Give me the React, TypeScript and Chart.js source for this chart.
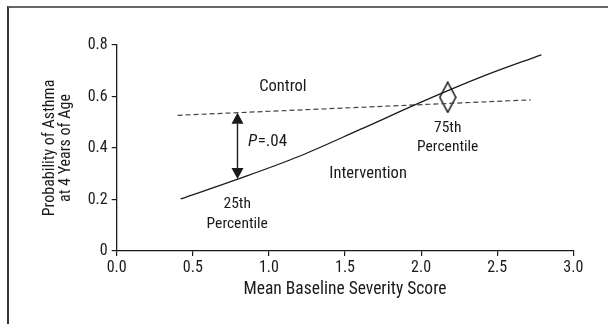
import React, { useEffect, useRef } from "react";
import { Chart, registerables } from "chart.js";

Chart.register(...registerables);

// Data
const interventionX = [0.42, 0.8, 1.2, 1.6, 2.0, 2.4, 2.79];
const interventionY = [0.202, 0.28, 0.368, 0.472, 0.578, 0.677, 0.762];
const controlX = [0.4, 2.72];
const controlY = [0.527, 0.587];
const xTicks = [0, 0.5, 1.0, 1.5, 2.0, 2.5, 3.0];
const yTicks = [0, 0.2, 0.4, 0.6, 0.8];
const diamondPoint = { x: 2.175, y: 0.597 };
const arrowX = 0.792;
const arrowTop = 0.537;
const arrowBottom = 0.28;

const annotationTexts = ["Control", "Intervention", "25th", "Percentile", "75th", "Percentile"];
const annotationX = [1.092, 1.652, 0.792, 0.792, 2.175, 2.175];
const annotationY = [0.636, 0.299, 0.183, 0.105, 0.479, 0.405];
const pLabel = { x: 0.863, y: 0.424, italic: "P", rest: "=.04" };

const FONT = "'Liberation Sans Narrow', 'Arial Narrow', 'Roboto Condensed', sans-serif";
const INK = "#1a1a1a";

function makeDiamond(): HTMLCanvasElement {
  const c = document.createElement("canvas");
  c.width = 18;
  c.height = 32;
  const ctx = c.getContext("2d")!;
  ctx.strokeStyle = "#111";
  ctx.lineWidth = 1.5;
  ctx.beginPath();
  ctx.moveTo(9, 1);
  ctx.lineTo(17, 16);
  ctx.lineTo(9, 31);
  ctx.lineTo(1, 16);
  ctx.closePath();
  ctx.stroke();
  return c;
}

const overlayPlugin = {
  id: "overlay",
  afterDatasetsDraw(chart: any) {
    const { ctx, scales } = chart;
    const xs = scales.x;
    const ys = scales.y;
    ctx.save();
    // arrow
    const ax = Math.round(xs.getPixelForValue(arrowX)) + 0.5;
    const at = ys.getPixelForValue(arrowTop);
    const ab = ys.getPixelForValue(arrowBottom);
    const hw = 6;
    const hh = 11;
    ctx.strokeStyle = INK;
    ctx.fillStyle = INK;
    ctx.lineWidth = 1.4;
    ctx.beginPath();
    ctx.moveTo(ax, at + hh);
    ctx.lineTo(ax, ab - hh);
    ctx.stroke();
    ctx.beginPath();
    ctx.moveTo(ax, at);
    ctx.lineTo(ax + hw, at + hh);
    ctx.lineTo(ax - hw, at + hh);
    ctx.closePath();
    ctx.fill();
    ctx.beginPath();
    ctx.moveTo(ax, ab);
    ctx.lineTo(ax + hw, ab - hh);
    ctx.lineTo(ax - hw, ab - hh);
    ctx.closePath();
    ctx.fill();

    // texts
    ctx.textAlign = "center";
    ctx.textBaseline = "middle";
    ctx.fillStyle = INK;
    annotationTexts.forEach((t, i) => {
      const fs = i < 2 ? 16.5 : 15.5;
      ctx.font = `${fs}px ${FONT}`;
      ctx.fillText(t, xs.getPixelForValue(annotationX[i]), ys.getPixelForValue(annotationY[i]));
    });
    // P=.04
    const px = xs.getPixelForValue(pLabel.x);
    const py = ys.getPixelForValue(pLabel.y);
    ctx.textAlign = "left";
    ctx.font = `italic 17px ${FONT}`;
    ctx.fillText(pLabel.italic, px, py);
    const w = ctx.measureText(pLabel.italic).width;
    ctx.font = `17px ${FONT}`;
    ctx.fillText(pLabel.rest, px + w + 0.5, py);
    ctx.restore();
  },
};

export default function App() {
  const ref = useRef<HTMLCanvasElement | null>(null);
  useEffect(() => {
    if (!ref.current) return;
    const diamond = makeDiamond();
    const chart = new Chart(ref.current, {
      type: "scatter",
      data: {
        datasets: [
          {
            label: "Intervention",
            data: interventionX.map((x, i) => ({ x, y: interventionY[i] })),
            showLine: true,
            borderColor: INK,
            borderWidth: 1.3,
            pointRadius: 0,
            cubicInterpolationMode: "monotone",
          },
          {
            label: "Control",
            data: controlX.map((x, i) => ({ x, y: controlY[i] })),
            showLine: true,
            borderColor: "#444",
            borderWidth: 1.2,
            borderDash: [5, 3],
            pointRadius: 0,
          },
          {
            label: "75th Percentile",
            data: [diamondPoint],
            pointStyle: diamond as any,
            pointRadius: 10,
          },
        ],
      },
      options: {
        animation: false,
        responsive: false,
        layout: { padding: { left: 30, top: 45, right: 34.7, bottom: 24 } },
        plugins: { legend: { display: false }, tooltip: { enabled: false } },
        scales: {
          x: {
            type: "linear",
            min: 0,
            max: 3,
            afterBuildTicks: (s: any) => {
              s.ticks = xTicks.map((v) => ({ value: v }));
            },
            afterFit: (s: any) => {
              s.height = 49;
            },
            ticks: {
              color: INK,
              font: { family: FONT, size: 16 },
              padding: 2,
              callback: (v: any) => Number(v).toFixed(1),
            },
            grid: { display: true, drawOnChartArea: false, drawTicks: true, tickLength: 5, color: INK, lineWidth: 1.2 },
            border: { display: true, color: INK, width: 1.3 },
            title: {
              display: true,
              text: "Mean Baseline Severity Score",
              color: INK,
              font: { family: FONT, size: 17.5, lineHeight: 1.2 },
              padding: { top: 0, bottom: -0.5 },
            },
          },
          y: {
            type: "linear",
            min: 0,
            max: 0.8,
            afterBuildTicks: (s: any) => {
              s.ticks = yTicks.map((v) => ({ value: v }));
            },
            afterFit: (s: any) => {
              s.width = 86.7;
            },
            ticks: {
              color: INK,
              font: { family: FONT, size: 16 },
              padding: 4,
              callback: (v: any) => (Number(v) === 0 ? "0" : Number(v).toFixed(1)),
            },
            grid: { display: true, drawOnChartArea: false, drawTicks: true, tickLength: 5, color: INK, lineWidth: 1.2 },
            border: { display: true, color: INK, width: 1.3 },
            title: {
              display: true,
              text: ["Probability of Asthma", "at 4 Years of Age"],
              color: INK,
              font: { family: FONT, size: 16, lineHeight: 1.05 },
              padding: { top: 11.2, bottom: 0 },
            },
          },
        },
      },
      plugins: [overlayPlugin],
    } as any);
    return () => chart.destroy();
  }, []);

  return (
    <div>
      <div
        style={{
          position: "fixed",
          left: 7,
          top: 6,
          width: 640,
          height: 400,
          borderTop: "2px solid #666",
          borderLeft: "2px solid #333",
          boxSizing: "border-box",
        }}
      />
      <canvas
        ref={ref}
        width={608}
        height={324}
        style={{ position: "fixed", left: 0, top: 0, width: 608, height: 324 }}
      />
    </div>
  );
}
